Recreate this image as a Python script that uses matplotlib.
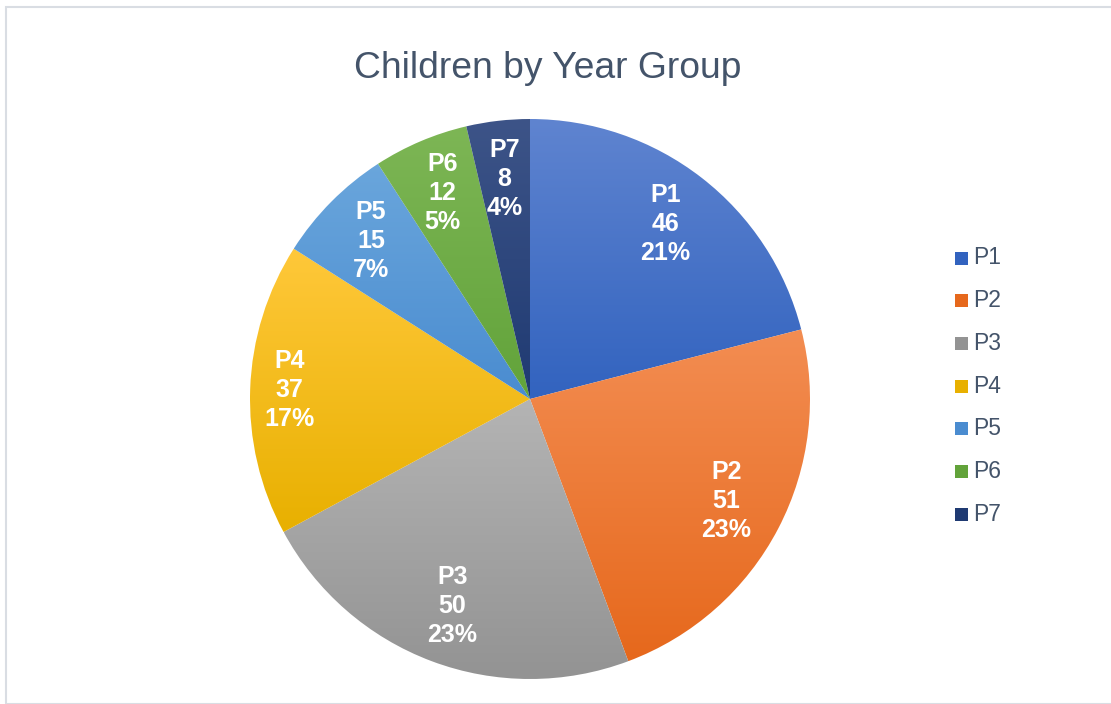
import numpy as np
import matplotlib
matplotlib.use('Agg')
import matplotlib.pyplot as plt
from matplotlib.colors import LinearSegmentedColormap
from matplotlib.patches import Rectangle

plt.rcParams['font.family'] = ['Liberation Sans', 'DejaVu Sans']

# ---------- data ----------
groups = ['P1', 'P2', 'P3', 'P4', 'P5', 'P6', 'P7']
children = [46, 51, 50, 37, 15, 12, 8]

# gradient colours (top, bottom) per slice
top_colors = ['#5f84d0', '#f38d52', '#b4b4b4', '#ffc83a', '#6aa6dc', '#7db655', '#3d5488']
bot_colors = ['#3263bf', '#e6681c', '#939393', '#e8b000', '#4a8cd0', '#62a33a', '#1f3a72']
# label distance from centre (fraction of radius), Excel "best fit" placement
label_dist = [0.79, 0.79, 0.79, 0.86, 0.80, 0.80, 0.79]

W, H = 1111, 704
fig = plt.figure(figsize=(W / 100, H / 100), dpi=100)

# outer chart border
fig.patches.append(Rectangle((6 / W, 0), 1.2, (H - 7) / H, transform=fig.transFigure,
                             fill=False, edgecolor='#d9dde3', linewidth=1.5))

cx, cy, r = 530, 399, 280
ax = fig.add_axes([(cx - r) / W, (H - cy - r) / H, 2 * r / W, 2 * r / H])

total = sum(children)
wedges, _ = ax.pie(children, startangle=90, counterclock=False, radius=1,
                   colors=bot_colors, wedgeprops=dict(linewidth=0))

grad = np.linspace(0, 1, 256).reshape(-1, 1)
for w, c0, c1 in zip(wedges, top_colors, bot_colors):
    bb = w.get_path().get_extents()
    cmap = LinearSegmentedColormap.from_list('g', [c0, c1])
    im = ax.imshow(grad, cmap=cmap, aspect='auto', origin='upper',
                   extent=[bb.x0, bb.x1, bb.y0, bb.y1], zorder=2)
    im.set_clip_path(w)
    w.set_facecolor('none')

# data labels
for w, g, v, d in zip(wedges, groups, children, label_dist):
    ang = np.deg2rad((w.theta1 + w.theta2) / 2)
    pct = round(v / total * 100)
    ax.text(d * np.cos(ang), d * np.sin(ang), f'{g}\n{v}\n{pct}%',
            ha='center', va='center', color='white', fontsize=18,
            fontweight='bold', linespacing=1.27, zorder=5)

ax.set_xlim(-1, 1)
ax.set_ylim(-1, 1)
ax.set_aspect('equal')
ax.axis('off')

fig.text(548 / W, 1 - 69 / H, 'Children by Year Group', ha='center', va='center',
         fontsize=26.8, color='#44546a')

# legend
leg_y0, leg_dy = 258, 42.7
for i, g in enumerate(groups):
    y = leg_y0 + i * leg_dy
    sq = Rectangle((955 / W, 1 - (y + 6.5) / H), 13 / W, 13 / H, transform=fig.transFigure,
                   facecolor=bot_colors[i], edgecolor='none')
    fig.patches.append(sq)
    fig.text(973 / W, 1 - y / H, g, ha='left', va='center', fontsize=16.5, color='#44546a')

fig.savefig('out.png', dpi=100)
